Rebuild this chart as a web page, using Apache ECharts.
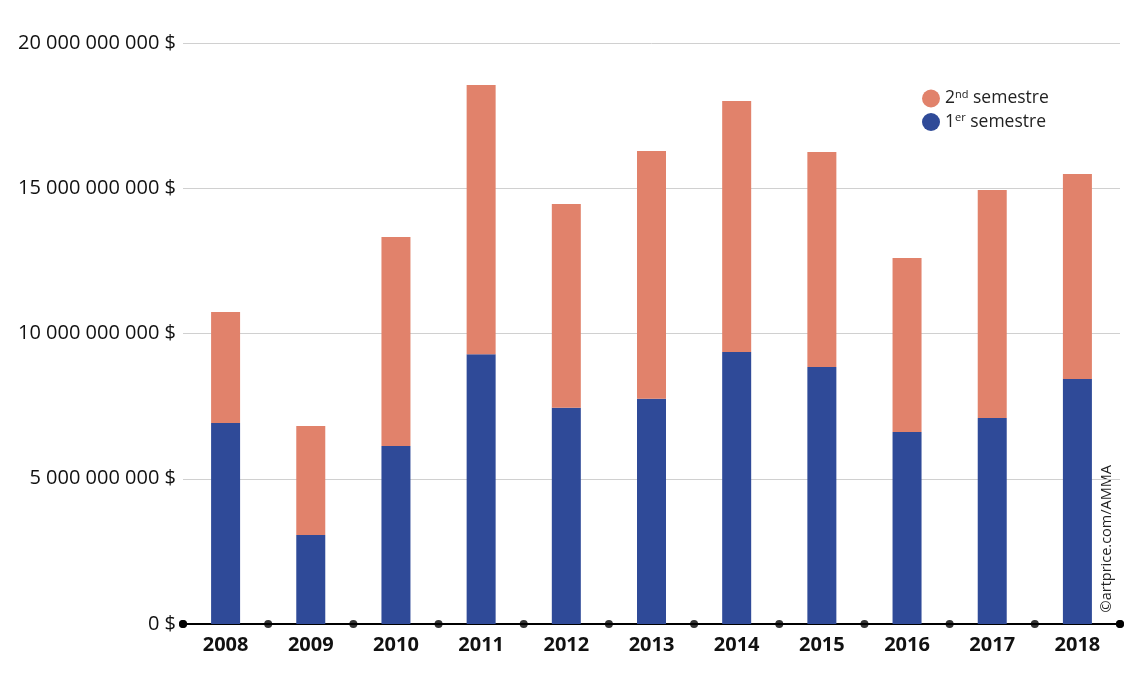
<!DOCTYPE html>
<html><head><meta charset="utf-8">
<script src="https://cdn.jsdelivr.net/npm/echarts@6/dist/echarts.min.js"></script>
<style>html,body{margin:0;padding:0;background:#fff}#c{width:1140px;height:676px}</style>
</head><body><div id="c"></div>
<script>
const years = ['2008','2009','2010','2011','2012','2013','2014','2015','2016','2017','2018'];
const sem1 = [6.92e9, 3.06e9, 6.13e9, 9.29e9, 7.44e9, 7.75e9, 9.36e9, 8.85e9, 6.61e9, 7.09e9, 8.43e9];
const sem2 = [3.82e9, 3.76e9, 7.19e9, 9.26e9, 7.02e9, 8.53e9, 8.64e9, 7.40e9, 5.99e9, 7.85e9, 7.06e9];
const yTicks = [0, 5e9, 10e9, 15e9, 20e9];
const boundaries = [0,1,2,3,4,5,6,7,8,9,10,11];

function fmt(v){ return String(Math.round(v)).replace(/\B(?=(\d{3})+(?!\d))/g,' ') + ' $'; }

const chart = echarts.init(document.getElementById('c'));
chart.setOption({
  animation:false,
  textStyle:{fontFamily:'Open Sans'},
  grid:{left:183, right:20, top:43, bottom:52, containLabel:false},
  legend:{
    orient:'vertical', left:917, top:84, itemGap:5,
    icon:'circle', itemWidth:18, itemHeight:18,
    data:['2nd','1er'],
    formatter: function(n){ return n==='2nd' ? '2{s|nd} semestre' : '1{s|er} semestre'; },
    textStyle:{fontSize:17.5, color:'#222', fontFamily:'Open Sans',
      rich:{s:{fontSize:11, verticalAlign:'top', padding:[0,0,8,0], fontFamily:'Open Sans', color:'#222'}}}
  },
  xAxis:[{
    type:'category', data:years,
    axisLine:{lineStyle:{color:'#000', width:2}, symbol:['circle','circle'], symbolSize:[8,8]},
    axisTick:{show:false},
    axisLabel:{fontSize:20, fontWeight:'bold', color:'#111', margin:11, fontFamily:'Open Sans'}
  },{
    type:'value', min:0, max:11, show:false
  }],
  yAxis:{
    type:'value', min:0, max:20e9, interval:5e9,
    axisLine:{show:false}, axisTick:{show:false},
    splitLine:{lineStyle:{color:'#d0d0d0', width:1}},
    axisLabel:{fontSize:20, color:'#111', margin:7, formatter:fmt, fontFamily:'Open Sans'}
  },
  series:[
    {name:'1er', type:'bar', stack:'t', data:sem1, barWidth:29, itemStyle:{color:'#2f4a98'}},
    {name:'2nd', type:'bar', stack:'t', data:sem2, barWidth:29, itemStyle:{color:'#e1826b'}},
    {type:'scatter', xAxisIndex:1, data:boundaries.map(b=>[b,0]), symbolSize:8,
     itemStyle:{color:'#000'}, silent:true, z:10, clip:false}
  ],
  graphic:[{type:'text', left:1099, top:465, rotation:Math.PI/2,
    style:{text:'©artprice.com/AMMA', fontSize:14.5, fill:'#222', fontFamily:'Open Sans'}}]
});
</script></body></html>
